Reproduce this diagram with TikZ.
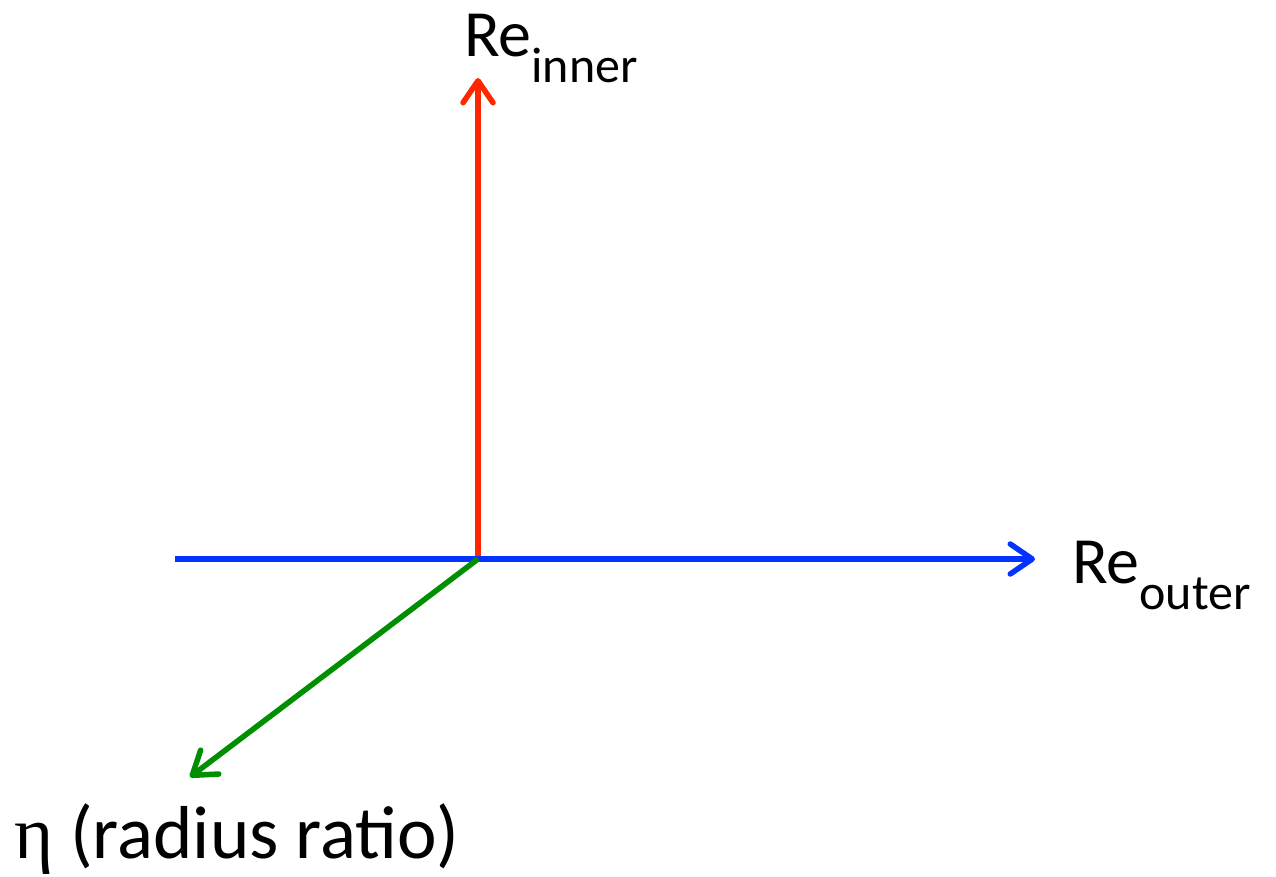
\documentclass[tikz,border=0pt]{standalone}
\usepackage{fontspec}
\setmainfont{Carlito}
\newfontfamily\etafont{Liberation Serif}
\usetikzlibrary{arrows.meta}
\definecolor{axred}{RGB}{255,38,0}
\definecolor{axblue}{RGB}{4,51,255}
\definecolor{axgreen}{RGB}{0,143,0}
\tikzset{
  axis/.style={line width=5.5pt, -{Straight Barb[length=22pt,width=30pt,line cap=round,line join=round]}},
  lbl/.style={anchor=base west, inner sep=0pt, outer sep=0pt, font=\fontsize{66}{66}\selectfont},
}
\newcommand{\subtxt}[1]{\raisebox{-26pt}{\fontsize{50}{50}\selectfont #1}}
\begin{document}
\begin{tikzpicture}[x=1pt,y=-1pt]
\useasboundingbox (0,0) rectangle (1276,877);
\coordinate (O) at (478,559);
\coordinate (L) at (175,559);
\coordinate (T) at (478,78);
\coordinate (R) at (1035,559);
\coordinate (G) at (190,777);
\draw[axis, axred] (O) -- (T);
\draw[axis, axblue] (L) -- (R);
\draw[axis, axgreen] (O) -- (G);
\node[lbl] (ri) at (464,57) {Re\subtxt{inner}};
\node[lbl] (ro) at (1072,583) {Re\subtxt{outer}};
\node[lbl, font=\fontsize{75}{75}\selectfont] (eta) at (14,858) {{\etafont η} (radius ratio)};
\end{tikzpicture}
\end{document}
